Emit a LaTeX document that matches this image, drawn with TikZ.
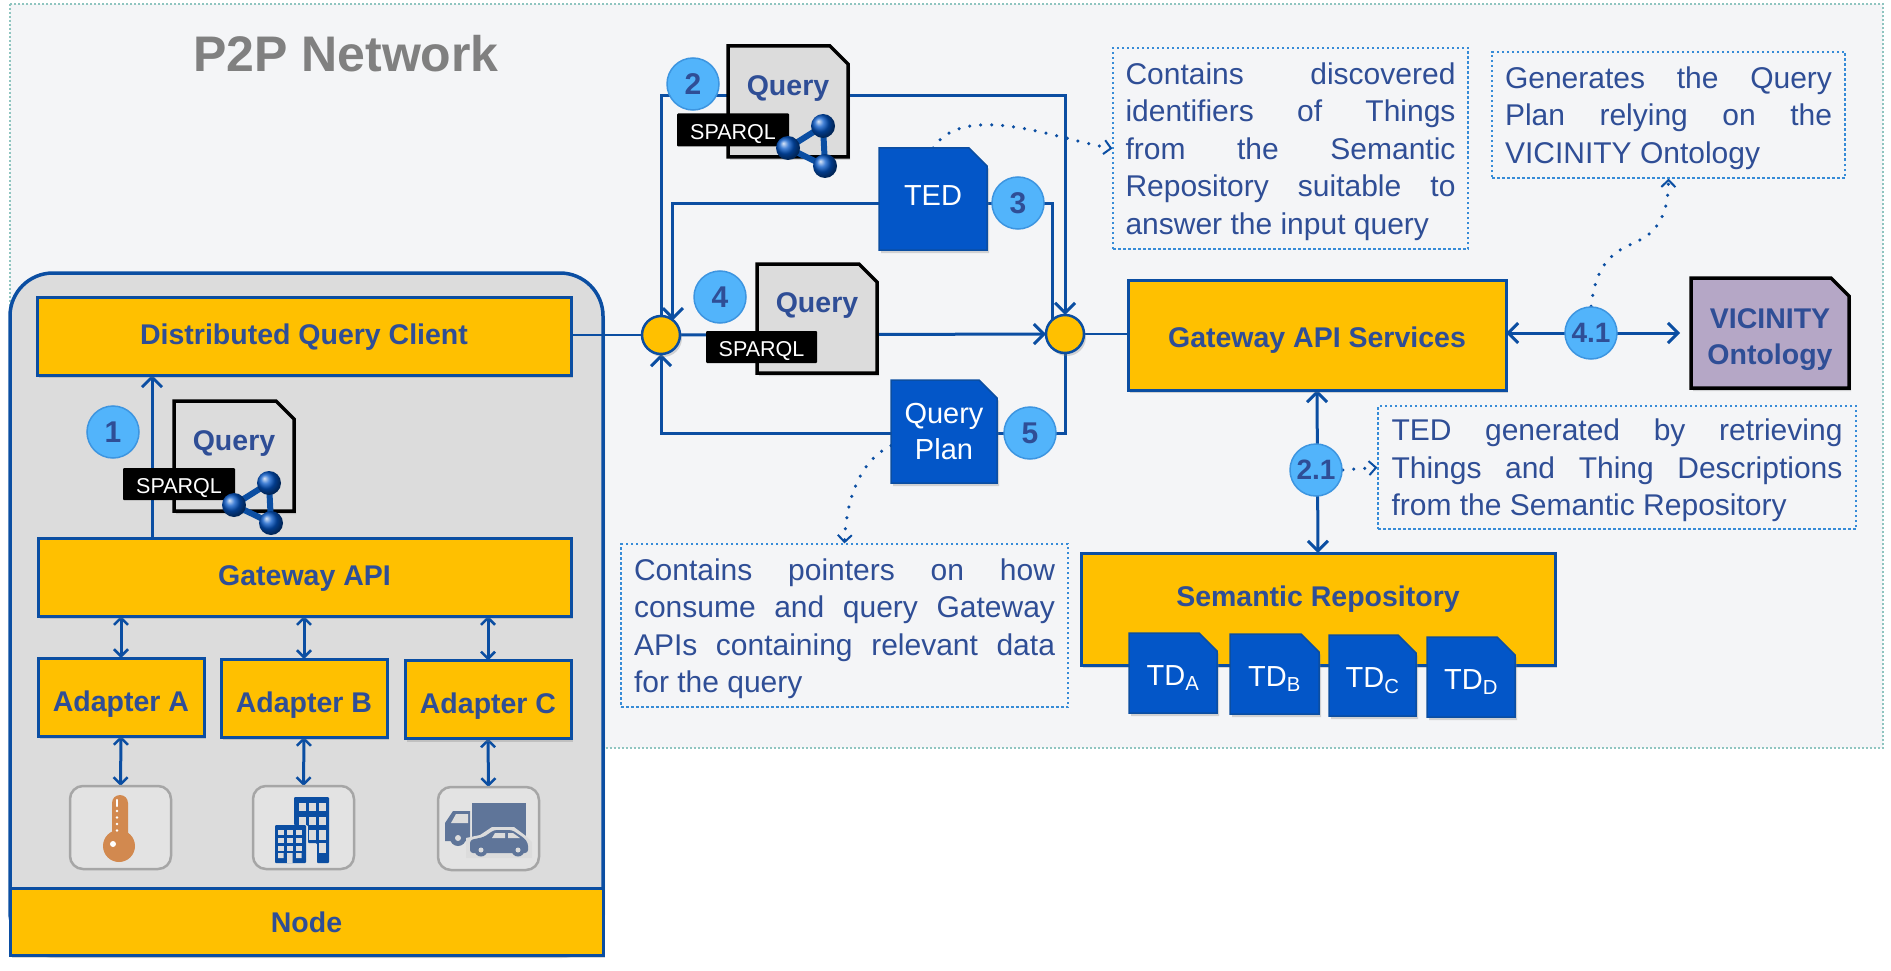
\documentclass[tikz,border=0pt]{standalone}
\usepackage{xcolor}
\usepackage{fontspec}
\setmainfont{Liberation Sans}
\usepackage{tikz}
\usetikzlibrary{positioning, arrows.meta, shapes.misc, shadows, calc}
\pgfdeclarelayer{back}
\pgfdeclarelayer{wires}
\pgfsetlayers{back,wires,main}
\definecolor{panelc}{HTML}{F4F5F7}
\definecolor{edgec}{HTML}{0B4EA2}
\definecolor{inkc}{HTML}{2F4E96}
\definecolor{amberc}{HTML}{FFC000}
\definecolor{skyc}{HTML}{52B4FB}
\definecolor{docc}{HTML}{0356C8}
\definecolor{greyc}{HTML}{DCDCDC}
\definecolor{lilacc}{HTML}{B5A7C6}
\definecolor{tealc}{HTML}{8FC5C0}
\definecolor{thermc}{HTML}{D2894F}
\definecolor{carc}{HTML}{5F7599}
\newcommand{\sparqlballs}[2]{%
  \begin{scope}[shift={(#1,#2)}]
    \draw[edgec, line width=6pt] (0,0) -- (-35,22) -- (2,40) -- cycle;
    \shade[ball color=docc] (0,0) circle (12);
    \shade[ball color=docc] (-35,22) circle (12);
    \shade[ball color=docc] (2,40) circle (12);
  \end{scope}}
\begin{document}
\begin{tikzpicture}[x=1pt, y=-1pt, >={Straight Barb[length=10pt, width=20pt, line width=3pt]},
  sh/.style={drop shadow={shadow xshift=2pt, shadow yshift=-3pt, opacity=.3}},
  b/.style={draw=edgec, fill=amberc, line width=3pt, outer sep=0pt, sh, align=center, text=inkc,
    text height=22pt, text depth=6pt, font=\fontsize{28.5}{34}\selectfont\bfseries},
  doc/.style={chamfered rectangle, chamfered rectangle corners=north east, chamfered rectangle xsep=9pt,
    chamfered rectangle ysep=9pt, outer sep=0pt, inner sep=0pt, sh, align=center},
  bdoc/.style={doc, draw=edgec, fill=docc, line width=1.5pt, text=white, font=\fontsize{29}{36}\selectfont},
  kdoc/.style={doc, draw=black, line width=3.5pt, text=inkc, font=\fontsize{28.5}{36}\selectfont\bfseries},
  gdoc/.style={kdoc, fill=greyc, text height=22pt, text depth=34pt},
  tag/.style={fill=black, text=white, rounded corners=1pt, inner sep=0pt, text height=19pt, text depth=0pt,
    font=\fontsize{21.5}{26}\selectfont},
  num/.style={circle, draw=skyc!70!edgec, fill=skyc, line width=1.5pt, minimum size=52pt, inner sep=0pt,
    text=inkc, font=\fontsize{30}{34}\selectfont\bfseries},
  hub/.style={circle, draw=edgec, fill=amberc, line width=2.5pt, minimum size=38pt, inner sep=0pt, outer sep=0pt, sh},
  note/.style={draw=skyc!60!edgec, dash pattern=on 2.5pt off 2.5pt, line width=1.2pt, align=justify, text=inkc,
    inner ysep=0pt, font=\fontsize{30}{37.4}\selectfont, execute at begin node={\rule{0pt}{28pt}}},
  tile/.style={draw=gray!70, fill=greyc!80!white, line width=2.5pt, rounded corners=13pt, minimum width=101pt,
    minimum height=83pt, outer sep=0pt},
  flow/.style={draw=edgec, line width=3pt},
  small/.style={draw=edgec, line width=3pt, {Straight Barb[length=7pt, width=14pt, line width=2.5pt]}-{Straight Barb[length=7pt, width=14pt, line width=2.5pt]}},
  hint/.style={draw=edgec, line width=3.5pt, line cap=round, dash pattern=on 0pt off 11pt,
    -{Straight Barb[length=7pt, width=14pt, line width=2pt]}}]
  \useasboundingbox (0,0) rectangle (1891,971);

  \begin{pgfonlayer}{back}
    \draw[tealc, fill=panelc, line width=1.2pt, dash pattern=on 2pt off 2pt] (10,4) rectangle (1883,748);
    \node[draw=edgec, fill=greyc, line width=3.5pt, rounded corners=43pt, minimum width=593pt, minimum height=682pt,
      outer sep=0pt, sh] (nodebox) at (306.5,614) {};
  \end{pgfonlayer}

  \node[text=gray, inner sep=0pt, font=\fontsize{50}{56}\selectfont\bfseries] (title) at (346,54) {P2P Network};

  \node[b, minimum width=534pt, minimum height=78pt] (dqc) at (304,336) {Distributed Query Client};
  \node[b, minimum width=533pt, minimum height=78pt] (gwapi) at (304.5,577) {Gateway API};
  \node[b, minimum width=166pt, minimum height=78pt, text height=34pt] (adpa) at (121,697) {Adapter A};
  \node[b, minimum width=166pt, minimum height=78pt, text height=34pt] (adpb) at (304,698) {Adapter B};
  \node[b, minimum width=166pt, minimum height=78pt, text height=34pt] (adpc) at (488,699.5) {Adapter C};
  \node[b, minimum width=593pt, minimum height=67pt, text height=27pt] (nodeband) at (306.5,921.5) {Node};
  \node[tile] (tilea) at (120.5,827.5) {};
  \node[tile] (tileb) at (303.5,827.5) {};
  \node[tile] (tilec) at (488.5,828.5) {};

  \node[num] (one) at (113,432) {1};
  \node[gdoc, minimum width=120pt, minimum height=110pt] (qone) at (234,456) {Query};
  \node[tag, minimum width=112pt, minimum height=32pt] (sone) at (179,484) {SPARQL};
  \sparqlballs{269}{483}

  \node[gdoc, minimum width=120pt, minimum height=111pt] (qtwo) at (788,101.5) {Query};
  \node[num] (two) at (693,84) {2};
  \node[tag, minimum width=112pt, minimum height=33pt] (stwo) at (733,130) {SPARQL};
  \sparqlballs{823}{126}

  \node[bdoc, minimum width=108pt, minimum height=102pt, text height=26pt, text depth=14pt] (ted) at (933,199) {TED};
  \node[num] (three) at (1018,203) {3};

  \node[gdoc, minimum width=120pt, minimum height=109pt] (qfour) at (817,318.5) {Query};
  \node[num] (four) at (720,297) {4};
  \node[tag, minimum width=111pt, minimum height=32pt] (sfour) at (761.5,347) {SPARQL};

  \node[bdoc, minimum width=106pt, minimum height=103pt] (plan) at (944,431.5) {Query\\Plan};
  \node[num] (five) at (1030,433) {5};

  \node[hub] (hubl) at (661,335) {};
  \node[hub] (hubr) at (1065,334) {};

  \node[b, minimum width=378pt, minimum height=110pt, text height=30pt] (gwserv) at (1317,335) {Gateway API Services};
  \node[kdoc, fill=lilacc, minimum width=158pt, minimum height=110pt] (vic) at (1770,333) {\rule{0pt}{33pt}VICINITY\\Ontology};
  \node[num, font=\fontsize{28}{34}\selectfont\bfseries] (fourone) at (1591,333) {4.1};
  \node[num, font=\fontsize{28}{34}\selectfont\bfseries] (twoone) at (1316,470) {2.1};

  \node[b, minimum width=474pt, minimum height=112pt, text depth=28pt] (repo) at (1318,609) {Semantic Repository};
  \node[bdoc, minimum width=88pt, minimum height=80pt, text height=26pt, text depth=2pt] (tda) at (1173,673) {TD\textsubscript{A}};
  \node[bdoc, minimum width=89pt, minimum height=80pt, text height=26pt, text depth=2pt] (tdb) at (1274.5,674) {TD\textsubscript{B}};
  \node[bdoc, minimum width=87pt, minimum height=81pt, text height=26pt, text depth=2pt] (tdc) at (1372.5,675.5) {TD\textsubscript{C}};
  \node[bdoc, minimum width=88pt, minimum height=80pt, text height=26pt, text depth=2pt] (tdd) at (1471,677) {TD\textsubscript{D}};

  \node[note, text width=330pt, inner xsep=12.5pt, minimum height=201pt] (notea) at (1290.5,148.5)
    {Contains discovered\linebreak identifiers of Things\linebreak from the Semantic\linebreak Repository suitable to\linebreak answer the input query};
  \node[note, text width=327pt, inner xsep=13pt, minimum height=126pt] (noteb) at (1668.5,115)
    {Generates the Query\linebreak Plan relying on the\linebreak VICINITY Ontology};
  \node[note, text width=421pt, inner xsep=13pt, minimum height=163pt] (notec) at (844.5,625.5)
    {Contains pointers on how\linebreak consume and query Gateway\linebreak APIs containing relevant data\linebreak for the query};
  \node[note, text width=451pt, inner xsep=13.5pt, minimum height=123pt] (noted) at (1617,467.5)
    {TED generated by retrieving\linebreak Things and Thing Descriptions\linebreak from the Semantic Repository};

  \coordinate (upx) at (152,450);
  \coordinate (topr) at (1065,96);
  \coordinate (bend) at (1640,240);
  \begin{pgfonlayer}{wires}
    \draw[flow, ->] (upx |- gwapi.north) -- (upx |- dqc.south);
    \draw[small] (gwapi.south -| adpa.north) -- (adpa.north);
    \draw[small] (gwapi.south -| adpb.north) -- (adpb.north);
    \draw[small] (gwapi.south -| adpc.north) -- (adpc.north);
    \draw[small] (adpa.south) -- (tilea.north);
    \draw[small] (adpb.south) -- (tileb.north);
    \draw[small] (adpc.south) -- (tilec.north);
    \draw[flow, line width=2pt] (dqc.east |- hubl) -- (hubl);
    \draw[flow, line width=2pt] (hubr) -- (gwserv.west |- hubr);
    \draw[flow, ->] (hubl.north) |- (topr) -- (hubr.north);
    \draw[flow, ->] (three.center) -| (hubl.51);
    \draw[flow] (three.center) -| (hubr.133);
    \draw[flow, ->] (hubl.east) -- (hubr.west);
    \draw[flow, ->] (five.center) -| (hubl.south);
    \draw[flow] (five.center) -| (hubr.south);
    \draw[flow, <->, shorten >=11pt] (gwserv.east |- fourone) -- (vic.west);
    \draw[flow, <->] (gwserv.south) -- (repo.north);
    \draw[hint] (ted.north) .. controls (965,100) and (1060,140) .. (notea.west);
    \draw[hint] (plan.195) .. controls (860,460) and (846,500) .. (notec.north);
    \draw[hint] (fourone.north) .. controls (1597,255) and (1620,250) .. (bend) .. controls (1658,230) and (1668,215) .. (noteb.south);
    \draw[hint] (twoone.east) -- (noted.west);
  \end{pgfonlayer}

  % thermometer
  \fill[thermc] (112,803) arc (180:360:8) -- (128,840) -- (112,840) -- cycle;
  \fill[thermc] (119,846) circle (16);
  \fill[white] (113,844) circle (3);
  \draw[white, line width=2.5pt, line cap=round] (117,806) -- (117,800);
  \foreach \ty in {811,817.5,...,833} \fill[white] (117,\ty) circle (1.4);

  % buildings
  \fill[edgec, rounded corners=1pt] (294,797) -- (329,797) -- (329,863) -- (317,863) -- (317,843) -- (308,843) -- (308,825) -- (294,825) -- cycle;
  \foreach \wy in {803,817} \foreach \wx in {299,309,319} \fill[greyc] (\wx,\wy) rectangle +(6.5,7.5);
  \foreach \wx in {309,319} \fill[greyc] (\wx,830) rectangle +(6.5,10);
  \fill[greyc] (319,843) rectangle +(6.5,10);
  \fill[edgec, rounded corners=1pt] (275,825) rectangle (306,863);
  \foreach \wy in {830,838,846} \foreach \wx in {278,287,296} \fill[greyc] (\wx,\wy) rectangle +(5.5,5);
  \fill[greyc] (278,853) rectangle +(5.5,5) (296,853) rectangle +(5.5,5) (287,853) rectangle +(5.5,10);

  % truck and car
  \fill[carc] (472,803) rectangle (526,838);
  \fill[carc] (445,841) -- (445,823) -- (453,811) -- (470,811) -- (470,841) -- cycle;
  \fill[greyc] (451,823) -- (456,814) -- (468,814) -- (468,823) -- cycle;
  \fill[carc] (458,838) circle (8);
  \fill[greyc] (458,838) circle (3);
  \fill[greyc] (466,858) -- (466,838) -- (480,835) -- (492,827) -- (514,827) -- (526,836) -- (532,842) -- (532,858) -- cycle;
  \fill[carc, rounded corners=3pt] (470,853) -- (470,840) -- (484,837) -- (494,830) -- (512,830) -- (524,838) -- (528,843) -- (528,853) -- cycle;
  \fill[greyc] (492,838) -- (495,833) -- (505,833) -- (505,838) -- cycle (508,833) -- (513,833) -- (520,838) -- (508,838) -- cycle;
  \fill[carc] (481,850) circle (6.5) (518,850) circle (6.5);
  \fill[greyc] (481,850) circle (2.5) (518,850) circle (2.5);
\end{tikzpicture}
\end{document}
